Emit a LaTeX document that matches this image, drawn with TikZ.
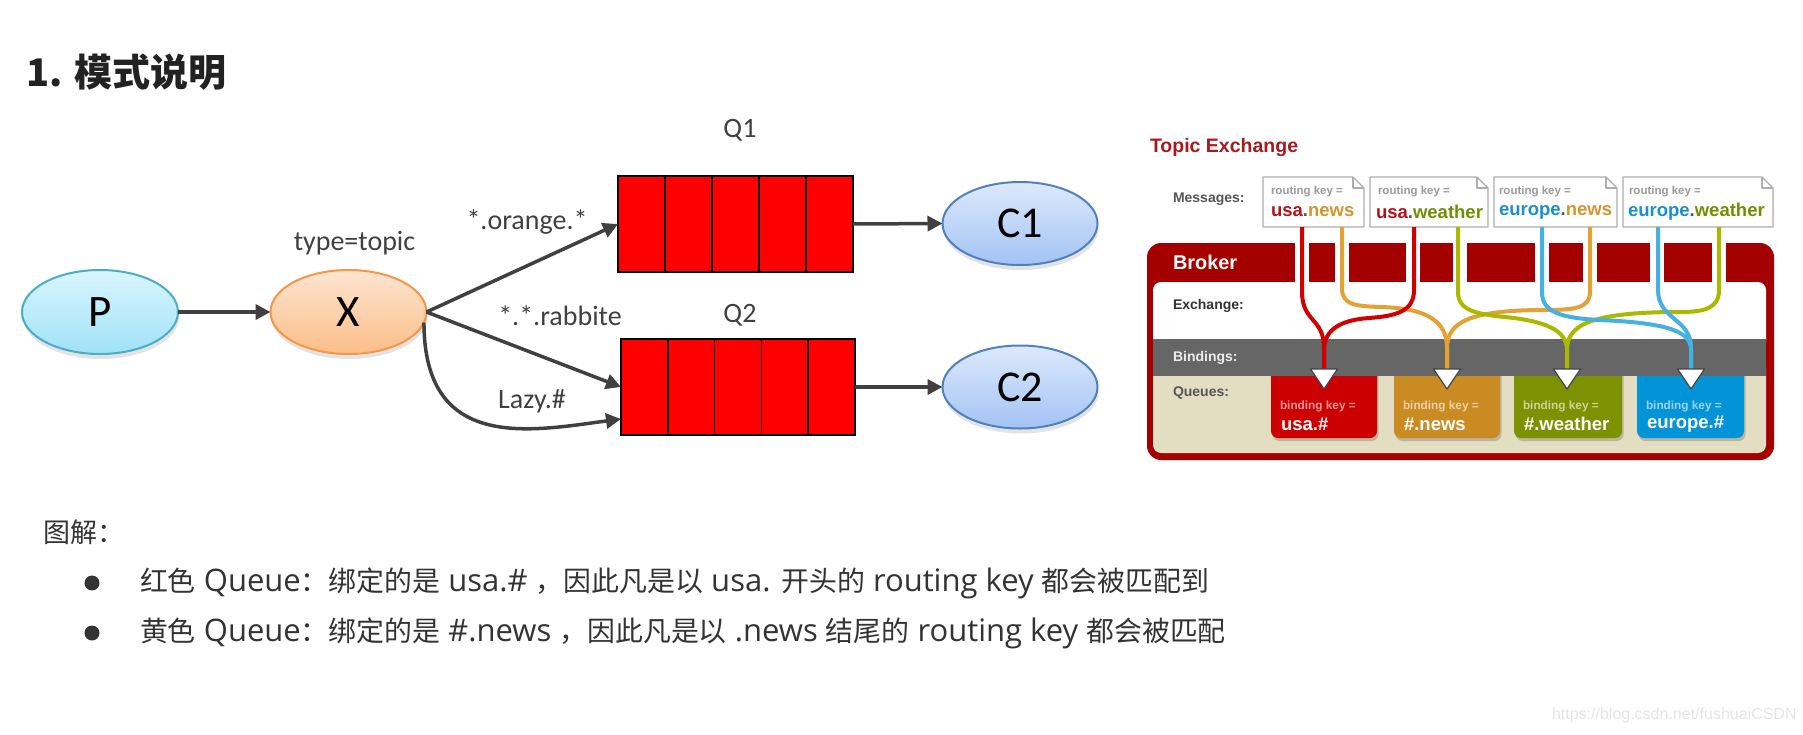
\documentclass[tikz,border=0pt]{standalone}
\usepackage{fontspec}
\setmainfont{Carlito}
\newfontfamily\cjk{Noto Sans CJK SC}
\newfontfamily\cjks{Noto Sans CJK SC}[Scale=0.9]
\newfontfamily\osans{Open Sans}
\newfontfamily\lib{Liberation Sans}
\usetikzlibrary{arrows.meta,calc,shadows,shapes.geometric}

\definecolor{labgray}{HTML}{404040}
\definecolor{arrowgray}{HTML}{404040}
\definecolor{ptop}{HTML}{D9F5FD}
\definecolor{pbot}{HTML}{A0E2F7}
\definecolor{pborder}{HTML}{4BACC6}
\definecolor{xtop}{HTML}{FDE5D1}
\definecolor{xbot}{HTML}{FBBE88}
\definecolor{xborder}{HTML}{F79646}
\definecolor{ctop}{HTML}{DDE9FB}
\definecolor{cbot}{HTML}{A3C3F4}
\definecolor{cborder}{HTML}{4F81BD}
\definecolor{qred}{HTML}{FF0000}
\definecolor{titlecol}{HTML}{222222}
\definecolor{bodycol}{HTML}{333333}
\definecolor{wmcol}{HTML}{E4E4E4}
\definecolor{tecol}{HTML}{A8191E}
\definecolor{brokerred}{HTML}{A50000}
\definecolor{beige}{HTML}{E3DDC2}
\definecolor{bindgray}{HTML}{666666}
\definecolor{msglab}{HTML}{555555}
\definecolor{exlab}{HTML}{333333}
\definecolor{rkgray}{HTML}{9A9A9A}
\definecolor{mred}{HTML}{B4121B}
\definecolor{morange}{HTML}{D39530}
\definecolor{mgreen}{HTML}{6E9000}
\definecolor{mblue}{HTML}{1C8ECF}
\definecolor{mdot}{HTML}{555555}
\definecolor{wred}{HTML}{D00000}
\definecolor{worange}{HTML}{E2A236}
\definecolor{wgreen}{HTML}{AAB800}
\definecolor{wblue}{HTML}{45B0E2}
\definecolor{qbred}{HTML}{CC0000}
\definecolor{qbor}{HTML}{C98B22}
\definecolor{qbgr}{HTML}{7C9200}
\definecolor{qbbl}{HTML}{0394D8}
\definecolor{boxgray}{HTML}{ADADAD}
\definecolor{tridraw}{HTML}{444444}

\begin{document}
\begin{tikzpicture}[x=1pt,y=-1pt,
  every node/.style={inner sep=0pt, outer sep=0pt},
  lbl/.style={font=\fontsize{28}{30}\selectfont, text=labgray},
  ell/.style={ellipse, line width=2pt, minimum width=156pt, minimum height=84pt,
    font=\fontsize{45}{50}\selectfont,
    drop shadow={opacity=0.22, shadow xshift=1pt, shadow yshift=-5pt}},
  qbox/.style={rectangle, draw=black, line width=1.6pt, fill=qred, minimum width=235pt, minimum height=96pt},
  arr/.style={draw=arrowgray, line width=3.5pt, -{Triangle[length=15pt,width=15pt]}},
  rlab/.style={anchor=west, font=\lib\bfseries\fontsize{14}{16}\selectfont},
  rk/.style={anchor=west, font=\lib\bfseries\fontsize{11.5}{13}\selectfont, text=rkgray},
  rv/.style={anchor=west, font=\lib\bfseries\fontsize{18.5}{21}\selectfont},
  bk/.style={anchor=west, font=\lib\bfseries\fontsize{11.8}{13}\selectfont, text=white, text opacity=0.6},
  bv/.style={anchor=west, font=\lib\bfseries\fontsize{18.5}{21}\selectfont, text=white},
  msgbox/.style={fill=white, draw=boxgray, line width=1.2pt, line join=round},
  wire/.style={line width=4pt},
  tri/.style={fill=white, draw=tridraw, line width=1.2pt, line join=round},
  qshade/.style={fill=black, fill opacity=0.18, rounded corners=7pt},
  bodyline/.style={anchor=west, font=\osans\fontsize{31}{35}\selectfont, text=bodycol}
]
\useasboundingbox (0,0) rectangle (1803,734);

% ---------- title ----------
\node[anchor=west, font=\cjk\bfseries\fontsize{38}{42}\selectfont, text=titlecol] (title) at (26,72) {1. 模式说明};

% ---------- left diagram ----------
\node[ell, draw=pborder, top color=ptop, bottom color=pbot] (P) at (100,312) {P};
\node[ell, draw=xborder, top color=xtop, bottom color=xbot] (X) at (348.5,312) {X};
\node[ell, draw=cborder, top color=ctop, bottom color=cbot, minimum width=155pt, minimum height=83pt, font=\fontsize{44}{48}\selectfont] (C1) at (1020,223.5) {C1};
\node[ell, draw=cborder, top color=ctop, bottom color=cbot, minimum width=155pt, minimum height=83pt, font=\fontsize{44}{48}\selectfont] (C2) at (1020,387) {C2};

\node[qbox] (Q1) at (735.5,224) {};
\node[qbox, minimum width=234pt] (Q2) at (738,387) {};
\foreach \i in {1,2,3,4} {
  \draw[line width=1.6pt] ($(Q1.north west)+(\i*47,0)$) -- ($(Q1.south west)+(\i*47,0)$);
  \draw[line width=1.6pt] ($(Q2.north west)+(\i*46.8,0)$) -- ($(Q2.south west)+(\i*46.8,0)$);
}

\node[lbl] (lq1) at (740,130) {Q1};
\node[lbl] (lq2) at (740,315) {Q2};
\node[lbl] (ltype) at (354.5,243) {type=topic};
\node[lbl] (lor) at (527,222) {*.orange.*};
\node[lbl] (lrab) at (560,316) {*.*.rabbite};
\node[lbl] (llazy) at (532,401) {Lazy.\#};

\draw[arr] (P.east) -- (X.west);
\draw[arr] (X.east) -- (Q1.west);
\draw[arr] (X.east) -- (Q2.west);
\coordinate (lzend) at ($(Q2.west)+(0,32)$);
\draw[arr] (X.-8) .. controls +(0,130) and +(-90,12) .. (lzend);
\draw[arr] (Q1.east) -- (C1.west);
\draw[arr] (Q2.east) -- (C2.west);

% ---------- right diagram ----------
\node[anchor=west, font=\lib\bfseries\fontsize{19.5}{22}\selectfont, text=tecol] (te) at (1150,147) {Topic Exchange};
\node[rlab, text=msglab] (lmsg) at (1173,199) {Messages:};

% broker frame
\fill[brokerred, rounded corners=14pt] (1147,243) rectangle (1774,460);
\fill[white, rounded corners=8pt] (1153,282) rectangle (1766,350);
\fill[beige, rounded corners=8pt] (1153,360) rectangle (1766,453);
\foreach \x in {1302,1341.5,1413,1459.5,1542,1590,1657,1719}
  \fill[white] (\x-7,242) rectangle (\x+7,283);

% queues
\foreach \l/\r in {1271/1377,1394/1500,1514/1622,1637/1744}
  \fill[qshade] (\l+1.5,362) rectangle (\r+1.5,441);
\fill[qbred, rounded corners=7pt] (1271,360) rectangle (1377,438);
\fill[qbor, rounded corners=7pt] (1394,360) rectangle (1500,438);
\fill[qbgr, rounded corners=7pt] (1514,360) rectangle (1622,438);
\fill[qbbl, rounded corners=7pt] (1637,360) rectangle (1744,438);

% bindings band
\fill[bindgray] (1153,339) rectangle (1766,376);

\node[anchor=west, font=\lib\bfseries\fontsize{19.9}{22}\selectfont, text=white] (lbroker) at (1173,262) {Broker};
\node[rlab, text=exlab] (lex) at (1173,306) {Exchange:};
\node[rlab, text=black!8] (lbind) at (1173,358) {Bindings:};
\node[rlab, text=msglab] (lqueues) at (1173,393) {Queues:};

% message boxes
\filldraw[msgbox] (1263,177) -- (1353,177) -- (1364,188) -- (1364,227) -- (1263,227) -- cycle;
\draw[msgbox, fill=none] (1353,177) -- (1353,188) -- (1364,188);
\filldraw[msgbox] (1370,177) -- (1477,177) -- (1488,188) -- (1488,227) -- (1370,227) -- cycle;
\draw[msgbox, fill=none] (1477,177) -- (1477,188) -- (1488,188);
\filldraw[msgbox] (1494,177) -- (1606,177) -- (1617,188) -- (1617,227) -- (1494,227) -- cycle;
\draw[msgbox, fill=none] (1606,177) -- (1606,188) -- (1617,188);
\filldraw[msgbox] (1623,177) -- (1762,177) -- (1773,188) -- (1773,227) -- (1623,227) -- cycle;
\draw[msgbox, fill=none] (1762,177) -- (1762,188) -- (1773,188);

\node[rk] (rk1) at (1271,192) {routing key =};
\node[rk] (rk2) at (1378,192) {routing key =};
\node[rk] (rk3) at (1499,192) {routing key =};
\node[rk] (rk4) at (1629,192) {routing key =};
\node[rv] (rv1) at (1271,212) {\textcolor{mred}{usa}\textcolor{mdot}{.}\textcolor{morange}{news}};
\node[rv] (rv2) at (1376,212) {\textcolor{mred}{usa}\textcolor{mdot}{.}\textcolor{mgreen}{weather}};
\node[rv] (rv3) at (1499,212) {\textcolor{mblue}{europe}\textcolor{mdot}{.}\textcolor{morange}{news}};
\node[rv] (rv4) at (1628,212) {\textcolor{mblue}{europe}\textcolor{mdot}{.}\textcolor{mgreen}{weather}};

% wires
\draw[wire, worange] (1342,227) -- (1342,288) .. controls (1342,305) and (1355,306) .. (1380,307) .. controls (1425,308) and (1447,320) .. (1447,348) -- (1447,369);
\draw[wire, worange] (1590,227) -- (1590,292) .. controls (1590,308) and (1575,310) .. (1545,310) .. controls (1470,310) and (1447,322) .. (1447,348) -- (1447,369);
\draw[wire, wgreen] (1458,227) -- (1458,292) .. controls (1458,310) and (1475,314) .. (1505,317) .. controls (1545,321) and (1567,330) .. (1567,350) -- (1567,369);
\draw[wire, wgreen] (1719,227) -- (1719,290) .. controls (1719,308) and (1705,312) .. (1680,312) .. controls (1590,312) and (1567,325) .. (1567,350) -- (1567,369);
\draw[wire, wblue] (1542,227) -- (1542,292) .. controls (1542,312) and (1560,318) .. (1600,320) .. controls (1670,323) and (1691,332) .. (1691,350) -- (1691,369);
\draw[wire, wblue] (1658,227) -- (1658,290) .. controls (1658,320) and (1691,318) .. (1691,348) -- (1691,369);
\draw[wire, wred] (1302,227) -- (1302,292) .. controls (1302,322) and (1324,318) .. (1324,348) -- (1324,369);
\draw[wire, wred] (1414,227) -- (1414,290) .. controls (1414,312) and (1395,316) .. (1369,318) .. controls (1340,320) and (1324,330) .. (1324,350) -- (1324,369);

% triangles
\foreach \x in {1324,1447,1567,1691}
  \filldraw[tri] (\x-13.5,369) -- (\x+13.5,369) -- (\x,389) -- cycle;

\node[bk] (bk1) at (1280,406) {binding key =};
\node[bk] (bk2) at (1403,406) {binding key =};
\node[bk] (bk3) at (1523,406) {binding key =};
\node[bk] (bk4) at (1646,406) {binding key =};
\node[bv] (bv1) at (1281,424) {usa.\#};
\node[bv] (bv2) at (1404,424) {\#.news};
\node[bv] (bv3) at (1524,424) {\#.weather};
\node[bv] (bv4) at (1647,424) {europe.\#};

% ---------- explanation ----------
\node[anchor=west, font=\cjk\fontsize{27}{32}\selectfont, text=bodycol] (tujie) at (43,532) {图解：};
\node[circle, fill=bodycol, minimum size=15pt] (b1) at (92,583) {};
\node[circle, fill=bodycol, minimum size=15pt] (b2) at (92,633) {};
\node[bodyline] (line1) at (140,583)
  {{\cjks 红色} Queue{\cjks ：绑定的是} usa.\# {\cjks ，因此凡是以} usa. {\cjks 开头的} routing key {\cjks 都会被匹配到}};
\node[bodyline] (line2) at (140,633)
  {{\cjks 黄色} Queue{\cjks ：绑定的是} \#.news {\cjks ，因此凡是以} .news {\cjks 结尾的} routing key {\cjks 都会被匹配}};

\node[anchor=west, font=\lib\fontsize{16}{18}\selectfont, text=wmcol] (wm) at (1552,715) {https://blog.csdn.net/fushuaiCSDN};
\end{tikzpicture}
\end{document}
